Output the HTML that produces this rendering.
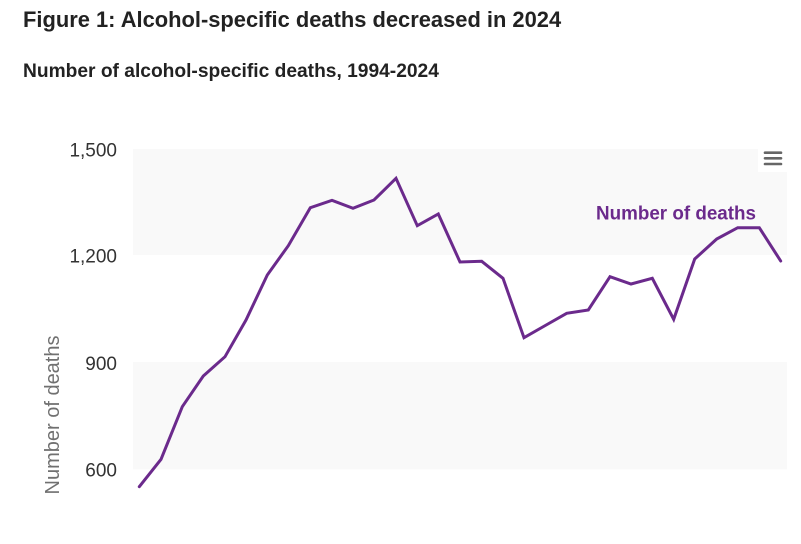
<!DOCTYPE html>
<html><head><meta charset="utf-8"><style>
html,body{margin:0;padding:0;background:#fff;}
svg{display:block;}
</style></head><body>
<svg width="801" height="544" viewBox="0 0 801 544" xmlns="http://www.w3.org/2000/svg">
<rect width="801" height="544" fill="#fff"/>
<text x="23" y="27" font-family="Liberation Sans, sans-serif" font-weight="bold" font-size="21.9" fill="#222">Figure 1: Alcohol-specific deaths decreased in 2024</text>
<text x="23" y="77" font-family="Liberation Sans, sans-serif" font-weight="bold" font-size="19.2" fill="#222">Number of alcohol-specific deaths, 1994-2024</text>
<rect x="133" y="149" width="654" height="106" fill="#f9f9f9"/>
<rect x="133" y="362" width="654" height="107.3" fill="#f9f9f9"/>
<g font-family="Liberation Sans, sans-serif" font-size="19" fill="#333" text-anchor="end">
<text x="117" y="156.7">1,500</text>
<text x="117" y="262.5">1,200</text>
<text x="117" y="369.8">900</text>
<text x="117" y="476.7">600</text>
</g>
<text transform="translate(59,415) rotate(-90)" text-anchor="middle" font-family="Liberation Sans, sans-serif" font-size="20" fill="#707070">Number of deaths</text>
<polyline fill="none" stroke="#6b2a8c" stroke-width="3" stroke-linejoin="miter" stroke-linecap="round" points="139.3,486.7 161,459.3 182.3,406.7 203.3,376 225,356.7 246,320 267.3,275 288.3,245.7 310.3,207.7 332,200.3 353,208.3 374,200 396,178.3 417.3,225.7 438.3,214 460,262 481.7,261.3 503,278.3 524,337.7 545.3,325.5 566.7,313.3 588.3,310 610,276.7 631,284 652.3,278.3 673.7,319.3 694.7,259 716.7,239 737.7,227.7 759.3,227.7 780.7,261"/>
<text x="596" y="219.5" font-family="Liberation Sans, sans-serif" font-weight="bold" font-size="19" fill="#6b2a8c" textLength="160" lengthAdjust="spacingAndGlyphs">Number of deaths</text>
<rect x="758" y="149" width="29" height="23" fill="#fff"/>
<g stroke="#666" stroke-width="2.6" stroke-linecap="round">
<line x1="765" y1="152.7" x2="781" y2="152.7"/>
<line x1="765" y1="158.3" x2="781" y2="158.3"/>
<line x1="765" y1="164" x2="781" y2="164"/>
</g>
</svg>
</body></html>
